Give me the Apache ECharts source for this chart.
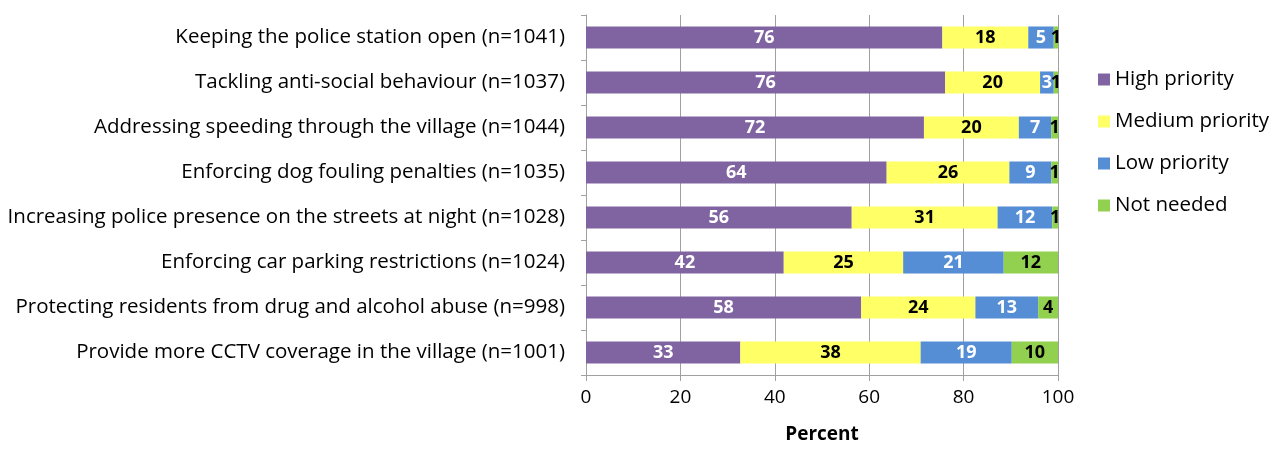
<!DOCTYPE html>
<html>
<head>
<meta charset="utf-8">
<script src="https://cdn.jsdelivr.net/npm/echarts@6/dist/echarts.min.js"></script>
<style>
  html, body { margin: 0; padding: 0; background: #fff; }
  #chart { width: 1276px; height: 449px; }
</style>
</head>
<body>
<div id="chart"></div>
<script>
const categories = [
  'Keeping the police station open (n=1041)',
  'Tackling anti-social behaviour (n=1037)',
  'Addressing speeding through the village (n=1044)',
  'Enforcing dog fouling penalties (n=1035)',
  'Increasing police presence on the streets at night (n=1028)',
  'Enforcing car parking restrictions (n=1024)',
  'Protecting residents from drug and alcohol abuse (n=998)',
  'Provide more CCTV coverage in the village (n=1001)'
]
const highPriority = [75.5, 76.1, 71.6, 63.7, 56.3, 41.9, 58.3, 32.7]
const mediumPriority = [18.2, 20.1, 20.1, 26.0, 30.9, 25.3, 24.2, 38.2]
const lowPriority = [5.4, 2.9, 6.9, 8.9, 11.6, 21.3, 13.3, 19.3]
const notNeeded = [0.9, 0.9, 1.4, 1.4, 1.2, 11.5, 4.2, 9.8]

const FONT = 'Open Sans'

const makeSeries = (name, data, color, labelColor) => ({
  name,
  type: 'bar',
  stack: 'total',
  data,
  barWidth: '49%',
  itemStyle: { color },
  label: {
    show: true,
    position: 'inside',
    color: labelColor,
    fontFamily: FONT,
    fontWeight: 'bold',
    fontSize: 18,
    formatter: p => Math.round(p.value)
  },
  emphasis: { disabled: true },
  animation: false
})

const chart = echarts.init(document.getElementById('chart'))
chart.setOption({
  backgroundColor: '#fff',
  textStyle: { fontFamily: FONT },
  grid: { left: 586, right: 218, top: 15, bottom: 73, containLabel: false },
  legend: {
    orient: 'vertical',
    left: 1093,
    top: 64,
    itemWidth: 12,
    itemHeight: 12,
    itemGap: 21,
    icon: 'rect',
    textStyle: { fontFamily: FONT, fontSize: 20.5, color: '#000' },
    data: ['High priority', 'Medium priority', 'Low priority', 'Not needed']
  },
  xAxis: {
    type: 'value',
    min: 0,
    max: 100,
    interval: 20,
    name: 'Percent',
    nameLocation: 'middle',
    nameGap: 50,
    nameTextStyle: { fontFamily: FONT, fontSize: 19, fontWeight: 'bold', color: '#000' },
    axisLine: { show: true, lineStyle: { color: '#a0a0a0', width: 1 } },
    axisTick: { show: true, length: 6, lineStyle: { color: '#a0a0a0' } },
    axisLabel: { fontFamily: FONT, fontSize: 19, color: '#000', margin: 13 },
    splitLine: { show: true, lineStyle: { color: '#a0a0a0', width: 1 } }
  },
  yAxis: {
    type: 'category',
    inverse: true,
    data: categories,
    axisLine: { show: true, lineStyle: { color: '#a0a0a0', width: 1 } },
    axisTick: { show: true, length: 5, lineStyle: { color: '#a0a0a0' } },
    axisLabel: { fontFamily: FONT, fontSize: 20.5, color: '#000', margin: 21 },
    splitLine: { show: false }
  },
  series: [
    makeSeries('High priority', highPriority, '#8064a2', '#fff'),
    makeSeries('Medium priority', mediumPriority, '#ffff66', '#000'),
    makeSeries('Low priority', lowPriority, '#558ed5', '#fff'),
    makeSeries('Not needed', notNeeded, '#92d050', '#000')
  ]
})
</script>
</body>
</html>
